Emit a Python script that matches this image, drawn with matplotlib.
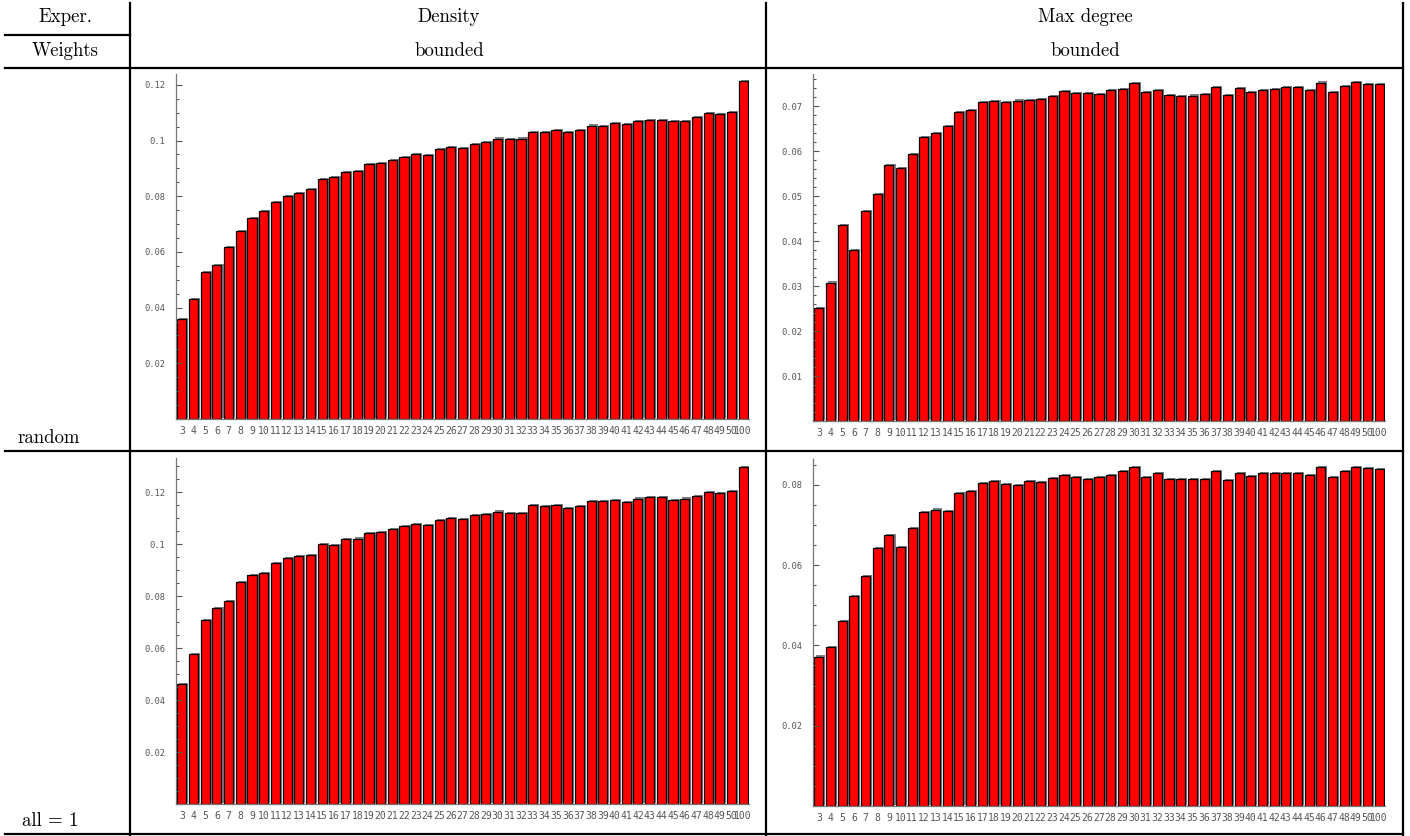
import matplotlib
matplotlib.use("Agg")
import matplotlib.pyplot as plt
import matplotlib.patheffects as pe
from matplotlib.ticker import FuncFormatter, MultipleLocator
from matplotlib.lines import Line2D

# number of vertices n
sizes = list(range(3, 51)) + [100]

density_random = [0.0358, 0.0430, 0.0527, 0.0553, 0.0619, 0.0674, 0.0723, 0.0748, 0.0780, 0.0800,
                  0.0811, 0.0827, 0.0861, 0.0868, 0.0886, 0.0890, 0.0916, 0.0918, 0.0929, 0.0942,
                  0.0951, 0.0947, 0.0969, 0.0977, 0.0974, 0.0988, 0.0994, 0.1007, 0.1005, 0.1007,
                  0.1032, 0.1032, 0.1037, 0.1031, 0.1037, 0.1054, 0.1053, 0.1062, 0.1059, 0.1071,
                  0.1074, 0.1073, 0.1071, 0.1071, 0.1084, 0.1098, 0.1094, 0.1103, 0.1213]

maxdeg_random = [0.0251, 0.0308, 0.0436, 0.0381, 0.0468, 0.0504, 0.0570, 0.0563, 0.0594, 0.0631,
                 0.0641, 0.0657, 0.0688, 0.0691, 0.0710, 0.0711, 0.0710, 0.0713, 0.0714, 0.0717,
                 0.0722, 0.0734, 0.0730, 0.0730, 0.0728, 0.0737, 0.0739, 0.0751, 0.0731, 0.0737,
                 0.0725, 0.0723, 0.0724, 0.0728, 0.0743, 0.0726, 0.0741, 0.0732, 0.0737, 0.0739,
                 0.0742, 0.0742, 0.0736, 0.0753, 0.0732, 0.0745, 0.0754, 0.0749, 0.0750]

density_ones = [0.0462, 0.0577, 0.0708, 0.0754, 0.0780, 0.0854, 0.0882, 0.0888, 0.0928, 0.0945,
                0.0954, 0.0956, 0.1001, 0.0997, 0.1019, 0.1021, 0.1041, 0.1045, 0.1059, 0.1069,
                0.1076, 0.1073, 0.1091, 0.1099, 0.1095, 0.1110, 0.1115, 0.1125, 0.1120, 0.1120,
                0.1150, 0.1145, 0.1150, 0.1140, 0.1145, 0.1165, 0.1165, 0.1170, 0.1160, 0.1175,
                0.1180, 0.1180, 0.1170, 0.1175, 0.1185, 0.1200, 0.1195, 0.1205, 0.1295]

maxdeg_ones = [0.0372, 0.0395, 0.0460, 0.0523, 0.0572, 0.0642, 0.0675, 0.0644, 0.0691, 0.0732,
               0.0738, 0.0734, 0.0779, 0.0784, 0.0803, 0.0810, 0.0802, 0.0799, 0.0808, 0.0806,
               0.0817, 0.0825, 0.0820, 0.0814, 0.0820, 0.0825, 0.0835, 0.0845, 0.0820, 0.0830,
               0.0815, 0.0815, 0.0815, 0.0815, 0.0835, 0.0812, 0.0830, 0.0822, 0.0828, 0.0828,
               0.0830, 0.0830, 0.0825, 0.0845, 0.0820, 0.0835, 0.0845, 0.0842, 0.0840]

W, H = 1410, 836
fig = plt.figure(figsize=(W / 100, H / 100), dpi=100)


def box(left, right, top, bottom):
    return [left / W, 1 - bottom / H, (right - left) / W, (bottom - top) / H]


def bar_panel(rect, values, ytop, major, minor):
    ax = fig.add_axes(rect)
    x = list(range(len(sizes)))
    bars = ax.bar(x, values, width=0.78, color="#ff0000", edgecolor="black", linewidth=0.9)
    for b in bars:
        b.set_path_effects([pe.SimplePatchShadow(offset=(1.5, 0.8), shadow_rgbFace="0.5", alpha=1.0),
                            pe.Normal()])
    ax.set_xlim(-0.5, len(sizes) - 0.5)
    ax.set_ylim(0, ytop)
    ax.set_xticks(x)
    ax.set_xticklabels([str(s) for s in sizes])
    ax.yaxis.set_major_locator(MultipleLocator(major))
    ax.yaxis.set_minor_locator(MultipleLocator(minor))
    ax.yaxis.set_major_formatter(FuncFormatter(lambda v, p: "" if v == 0 else "%g" % round(v, 4)))
    ax.tick_params(axis="x", length=0, pad=5, labelsize=7, labelcolor="#555555")
    ax.tick_params(axis="y", which="major", direction="in", length=4, width=0.8,
                   color="#555555", labelsize=6.3, labelcolor="#555555", pad=8)
    ax.tick_params(axis="y", which="minor", direction="in", length=2, width=0.8, color="#555555")
    for lab in ax.get_xticklabels() + ax.get_yticklabels():
        lab.set_family("DejaVu Sans Mono")
    for side in ["top", "right"]:
        ax.spines[side].set_visible(False)
    for side in ["left", "bottom"]:
        ax.spines[side].set_color("#777777")
        ax.spines[side].set_linewidth(0.9)
    return ax


bar_panel(box(176, 749, 74, 419), density_random, 0.1239, 0.02, 0.005)
bar_panel(box(813, 1385, 74, 421), maxdeg_random, 0.0772, 0.01, 0.002)
bar_panel(box(176, 749, 458, 804), density_ones, 0.1331, 0.02, 0.005)
bar_panel(box(813, 1385, 459, 806), maxdeg_ones, 0.0864, 0.02, 0.005)

# table rules
def rule(x0, y0, x1, y1, lw=1.6):
    fig.add_artist(Line2D([x0 / W, x1 / W], [1 - y0 / H, 1 - y1 / H], color="black", lw=lw))

rule(130, 3, 130, 836)
rule(766, 3, 766, 836)
rule(1403, 3, 1403, 836)
rule(5, 35, 130, 35)
rule(5, 68, 1403, 68)
rule(5, 451, 1403, 451)
rule(5, 834, 1403, 834)

txt = dict(family="cmr10", fontsize=13.5, color="black")
fig.text(65 / W, 1 - 17 / H, "Exper.", ha="center", va="center", **txt)
fig.text(65 / W, 1 - 51 / H, "Weights", ha="center", va="center", **txt)
fig.text(449 / W, 1 - 17 / H, "Density", ha="center", va="center", **txt)
fig.text(449 / W, 1 - 51 / H, "bounded", ha="center", va="center", **txt)
fig.text(1085 / W, 1 - 17 / H, "Max degree", ha="center", va="center", **txt)
fig.text(1085 / W, 1 - 51 / H, "bounded", ha="center", va="center", **txt)
fig.text(17 / W, 1 - 443 / H, "random", ha="left", va="baseline", **txt)
fig.text(22 / W, 1 - 826 / H, "all = 1", ha="left", va="baseline", **txt)

fig.savefig("out.png", dpi=100)
